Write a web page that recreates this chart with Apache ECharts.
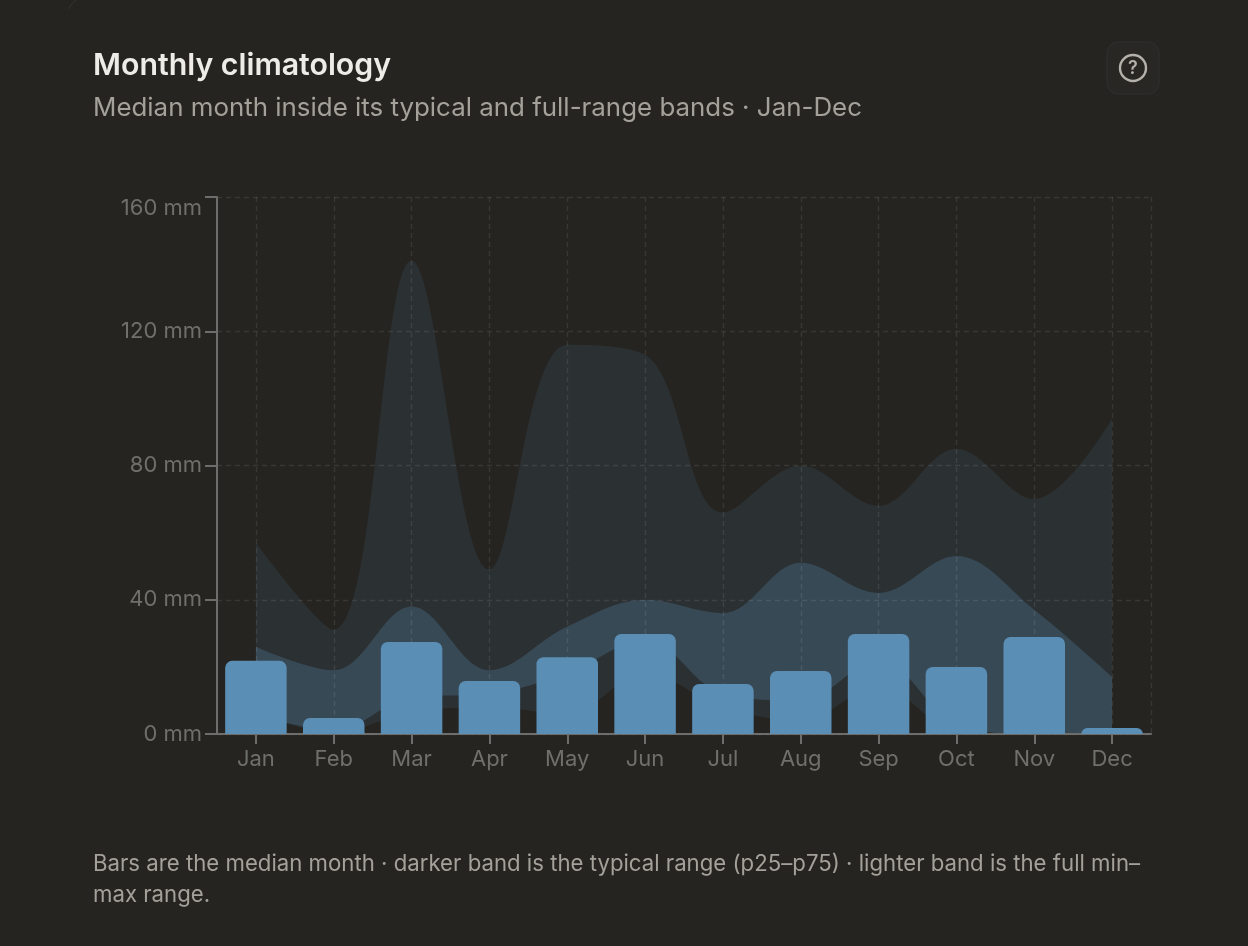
<!DOCTYPE html>
<html><head><meta charset="utf-8">
<style>html,body{margin:0;padding:0;background:#252420}#c{width:1248px;height:946px}</style>
<script src="https://cdn.jsdelivr.net/npm/echarts@6/dist/echarts.min.js"></script>
</head><body><div id="c"></div>
<script>
const months = ['Jan','Feb','Mar','Apr','May','Jun','Jul','Aug','Sep','Oct','Nov','Dec'];
const median = [21.8,4.8,27.4,15.8,22.9,29.8,14.9,18.8,29.8,20,28.9,1.8];
const fullMin = [6,0.5,6.5,8,6,18,8,4,14,1,0,0];
const fullMax = [57,31,141,49,116,113,66,80,68,85,70,94];
const typLow = [6,1,11,12,18,28,12,10,22,3,0,0];
const typHigh = [26,19,38,19,32,40,36,51,42,53,37,17];
const titleText = 'Monthly climatology';
const subtitleText = 'Median month inside its typical and full-range bands · Jan-Dec';
const noteText = 'Bars are the median month · darker band is the typical range (p25–p75) · lighter band is the full min–\nmax range.';
const FONT = 'Inter';
const span = (hi, lo) => hi.map((v, i) => v - lo[i]);
const band = (name, stack, data, color) => ({
  name, type:'line', stack, data, smooth:0.36, symbol:'none', silent:true, z:1,
  lineStyle:{width:0}, areaStyle: color ? {color, opacity:1} : {opacity:0}
});
const chart = echarts.init(document.getElementById('c'), null, {renderer:'canvas'});
const gridLine = {show:true, lineStyle:{color:'rgba(255,255,255,0.09)', type:[5,4], width:1.4}};
chart.setOption({
  animation:false,
  backgroundColor:'#252420',
  title:[
    {text:titleText, left:88, top:46, textStyle:{color:'#eeece6', fontFamily:FONT, fontSize:30.3, fontWeight:600}},
    {text:subtitleText, left:88, top:90, textStyle:{color:'#a3a199', fontFamily:FONT, fontSize:25.9, fontWeight:400}},
    {text:noteText, left:88, top:844, textStyle:{color:'#a3a199', fontFamily:FONT, fontSize:22.2, fontWeight:400, lineHeight:31}}
  ],
  grid:{left:217, right:97, top:197, bottom:212, containLabel:false},
  xAxis:[
    {type:'category', data:months, boundaryGap:true, z:3,
     axisLine:{show:true, onZero:false, lineStyle:{color:'#6d6d6b', width:2}},
     axisTick:{show:true, alignWithLabel:true, length:10, lineStyle:{color:'#6d6d6b', width:2}},
     axisLabel:{color:'#6f6f6b', fontFamily:FONT, fontSize:22, margin:14},
     splitLine:Object.assign({alignWithLabel:true}, gridLine)},
    {type:'value', min:0, max:1, interval:1, position:'top', z:3,
     axisLine:{show:false}, axisTick:{show:false}, axisLabel:{show:false}, splitLine:gridLine}
  ],
  yAxis:{type:'value', min:0, max:160, interval:40, z:3,
    axisLine:{show:true, lineStyle:{color:'#6d6d6b', width:2}},
    axisTick:{show:true, length:12, lineStyle:{color:'#6d6d6b', width:2}},
    axisLabel:{color:'#6f6f6b', fontFamily:FONT, fontSize:22, margin:15, formatter:'{value} mm', verticalAlignMaxLabel:'top'},
    splitLine:gridLine},
  series:[
    band('full base','full',fullMin,null),
    band('full range','full',span(fullMax,fullMin),'#2b3033'),
    band('typical base','typ',typLow,null),
    band('typical range','typ',span(typHigh,typLow),'#384956'),
    {name:'median', type:'bar', data:median, barWidth:61.5, z:4, silent:true,
     itemStyle:{color:'#5b8eb5', borderRadius:[7,7,0,0]}}
  ],
  graphic:[
    {type:'rect', z:10, shape:{x:1107,y:42,width:52,height:52,r:11}, style:{fill:'#282724', stroke:'#2e3030', lineWidth:1}},
    {type:'circle', z:11, shape:{cx:1133,cy:68,r:13}, style:{fill:'none', stroke:'#b3b1a9', lineWidth:2.4}},
    {type:'text', z:12, style:{x:1133,y:69,text:'?',fill:'#b3b1a9',font:'600 18px '+FONT,align:'center',verticalAlign:'middle'}},
    {type:'arc', z:1, shape:{cx:84,cy:14,r:16,startAngle:Math.PI*1.1,endAngle:Math.PI*1.35}, style:{fill:'none', stroke:'#35342f', lineWidth:1}}
  ]
});
</script></body></html>
